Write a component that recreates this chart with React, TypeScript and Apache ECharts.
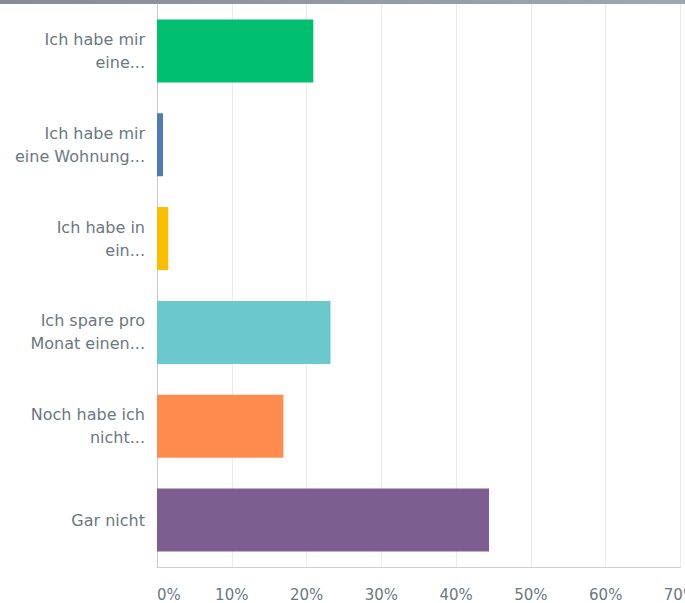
import React, { useEffect, useRef } from "react";
import * as echarts from "echarts";

const categories = [
  "Ich habe mir\neine...",
  "Ich habe mir\neine Wohnung...",
  "Ich habe in\nein...",
  "Ich spare pro\nMonat einen...",
  "Noch habe ich\nnicht...",
  "Gar nicht",
];
const values = [20.9, 0.8, 1.5, 23.2, 16.9, 44.4];
const colors = ["#00bf6f", "#507cb6", "#f9be00", "#6bc8cd", "#ff8b4f", "#7d5e90"];
const xTicks = [0, 10, 20, 30, 40, 50, 60, 70];

export default function App() {
  const ref = useRef<HTMLDivElement>(null);
  useEffect(() => {
    if (!ref.current) return;
    const chart = echarts.init(ref.current, null, { renderer: "svg" });
    chart.setOption({
      animation: false,
      backgroundColor: "#ffffff",
      grid: { left: 157, right: 39.5, top: 4, bottom: 36, containLabel: false },
      xAxis: {
        type: "value",
        min: xTicks[0],
        max: xTicks[xTicks.length - 1],
        interval: 10,
        axisLine: { show: true, lineStyle: { color: "#d0d0d0", width: 1 } },
        axisTick: { show: false },
        splitLine: { show: true, lineStyle: { color: "#ebebeb", width: 1 } },
        axisLabel: {
          formatter: "{value}%",
          color: "#6b787f",
          fontSize: 15,
          fontFamily: "DejaVu Sans",
          margin: 20,
          alignMinLabel: "left",
        },
      },
      yAxis: {
        type: "category",
        inverse: true,
        data: categories,
        axisLine: { show: true, lineStyle: { color: "#c8c8c8", width: 1 } },
        axisTick: { show: false },
        axisLabel: {
          color: "#6b787f",
          fontSize: 16,
          lineHeight: 23,
          fontFamily: "DejaVu Sans",
          margin: 12,
          align: "right",
        },
      },
      series: [
        {
          type: "bar",
          barWidth: 63,
          data: values.map((v, i) => ({ value: v, itemStyle: { color: colors[i] } })),
        },
      ],
      graphic: [
        {
          type: "rect",
          left: 0,
          top: 0,
          shape: { width: 720, height: 4 },
          style: {
            fill: new echarts.graphic.LinearGradient(0, 0, 1, 0, [
              { offset: 0, color: "#868c91" },
              { offset: 1, color: "#a3aaaf" },
            ]),
          },
        },
      ],
    });
    return () => chart.dispose();
  }, []);
  return (
    <div style={{ position: "fixed", left: 0, top: 0, width: 685, height: 603, overflow: "hidden", background: "#fff" }}>
      <div ref={ref} style={{ width: 720, height: 603 }} />
    </div>
  );
}
